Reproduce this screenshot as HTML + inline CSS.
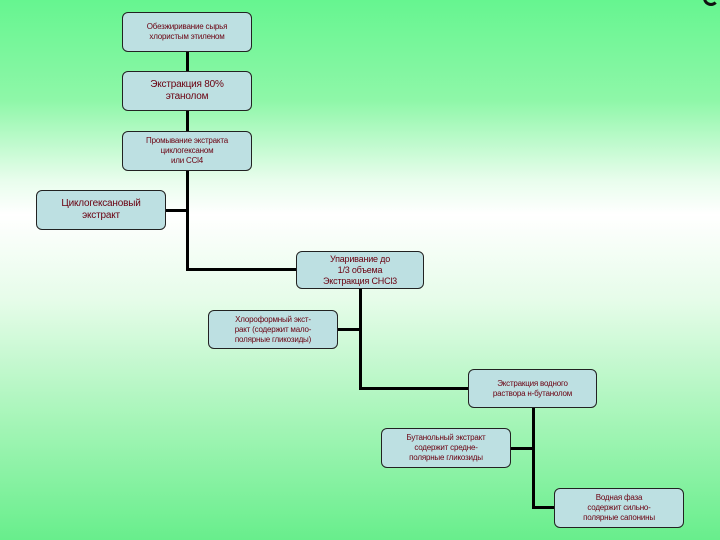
<!DOCTYPE html>
<html><head><meta charset="utf-8"><style>
html,body{margin:0;padding:0}
body{width:720px;height:540px;position:relative;overflow:hidden;
background:linear-gradient(to bottom,#66f590 0px,#8ef7a8 100px,#e8fdec 180px,#ffffff 215px,#e6fce9 300px,#a6f5b8 420px,#68ee8c 540px);
font-family:"Liberation Sans","DejaVu Sans",sans-serif}
.b{position:absolute;box-sizing:border-box;background:#bde0e2;border:1.5px solid #222;border-radius:6px;
color:#6a0010;font-size:8px;line-height:10px;text-align:center;display:flex;align-items:center;justify-content:center;letter-spacing:-0.2px}
.l{position:absolute;background:#000}
</style></head><body>
<div style="position:absolute;left:703px;top:-10px;width:16px;height:16px;border:3px solid #111;border-radius:50%;border-right-color:transparent;border-top-color:transparent;box-sizing:border-box"></div>
<!-- lines -->
<div class="l" style="left:186px;top:51px;width:3px;height:20px"></div>
<div class="l" style="left:186px;top:111px;width:3px;height:20px"></div>
<div class="l" style="left:186px;top:170px;width:3px;height:101px"></div>
<div class="l" style="left:166px;top:209px;width:21px;height:3px"></div>
<div class="l" style="left:186px;top:268px;width:110px;height:3px"></div>
<div class="l" style="left:359px;top:289px;width:3px;height:101px"></div>
<div class="l" style="left:338px;top:328px;width:22px;height:3px"></div>
<div class="l" style="left:359px;top:387px;width:109px;height:3px"></div>
<div class="l" style="left:532px;top:408px;width:3px;height:101px"></div>
<div class="l" style="left:511px;top:447px;width:22px;height:3px"></div>
<div class="l" style="left:532px;top:506px;width:22px;height:3px"></div>
<!-- boxes -->
<div class="b" style="left:122px;top:12px;width:130px;height:40px">Обезжиривание сырья<br>хлористым этиленом</div>
<div class="b" style="left:122px;top:71px;width:130px;height:40px;font-size:10px;line-height:12px">Экстракция 80%<br>этанолом</div>
<div class="b" style="left:122px;top:131px;width:130px;height:40px">Промывание экстракта<br>циклогексаном<br>или CCl4</div>
<div class="b" style="left:36px;top:190px;width:130px;height:40px;font-size:10px;line-height:12px">Циклогексановый<br>экстракт</div>
<div class="b" style="left:296px;top:251px;width:128px;height:38px;font-size:9px;line-height:11px">Упаривание до<br>1/3 объема<br>Экстракция CHCl3</div>
<div class="b" style="left:208px;top:310px;width:130px;height:39px">Хлороформный экст-<br>ракт (содержит мало-<br>полярные гликозиды)</div>
<div class="b" style="left:468px;top:369px;width:129px;height:39px">Экстракция водного<br>раствора н-бутанолом</div>
<div class="b" style="left:381px;top:428px;width:130px;height:40px">Бутанольный экстракт<br>содержит средне-<br>полярные гликозиды</div>
<div class="b" style="left:554px;top:488px;width:130px;height:40px">Водная фаза<br>содержит сильно-<br>полярные сапонины</div>
</body></html>
